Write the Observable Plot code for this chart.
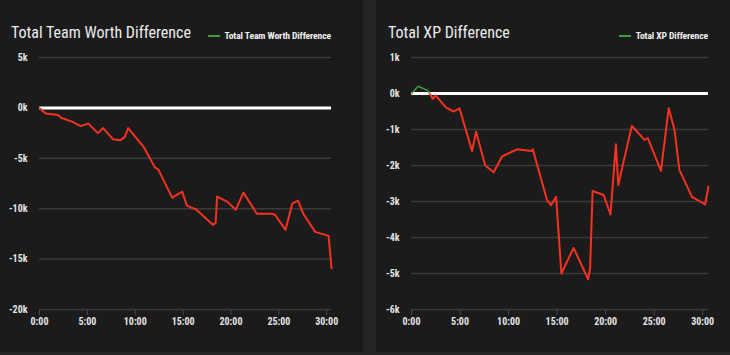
<!DOCTYPE html>
<html>
<head>
<meta charset="utf-8">
<script src="https://cdn.jsdelivr.net/npm/d3@7"></script>
<script src="https://cdn.jsdelivr.net/npm/@observablehq/plot@0.6"></script>
<style>
  html, body { margin: 0; padding: 0; }
  body { width: 730px; height: 355px; background: #252525; position: relative; overflow: hidden;
         font-family: "Liberation Sans Narrow", "Roboto Condensed", "DejaVu Sans Condensed", Roboto, sans-serif; }
  .panel { position: absolute; top: 0; height: 352px; background: #1b1b1b; }
  .title { position: absolute; top: 23px; font-size: 16px; line-height: 19px; color: #ececec; white-space: nowrap; }
  .legend { position: absolute; top: 30px; font-size: 9.6px; font-weight: bold; color: #f0f0f0; white-space: nowrap;
            display: flex; align-items: center; letter-spacing: -0.1px; }
  .legend .sw { width: 12px; height: 2px; background: #3d9a3d; margin-right: 5px; }
  .panel svg { position: absolute; left: 0; top: 0; }
</style>
</head>
<body>
<div class="panel" id="L" style="left:0;width:363px">
  <div class="title" style="left:11px">Total Team Worth Difference</div>
  <div class="legend" style="right:32px"><span class="sw"></span><span>Total Team Worth Difference</span></div>
</div>
<div class="panel" id="R" style="left:376px;width:354px">
  <div class="title" style="left:12px">Total XP Difference</div>
  <div class="legend" style="right:22px"><span class="sw"></span><span>Total XP Difference</span></div>
</div>
<script>
// ---- data (time in minutes) ----
const xTicks = [0, 5, 10, 15, 20, 25, 30];

const twTime  = [0, 0.63, 1.95, 2.3, 3.4, 4.3, 5.1, 6.1, 6.65, 7.66, 8.46, 8.9, 9.26, 10.9, 12.05, 12.4, 13.86, 14.9, 15.4, 16.4, 18.1, 18.4, 18.55, 19.6, 20.5, 21.3, 22.7, 24.3, 24.6, 25.7, 26.4, 27.0, 27.55, 28.8, 30.2, 30.5];
const twValue = [0, -560, -700, -1000, -1360, -1800, -1560, -2500, -2000, -3100, -3200, -2900, -2000, -3900, -5900, -6100, -8900, -8300, -9700, -10100, -11600, -11400, -8800, -9300, -10100, -8400, -10500, -10500, -10600, -12100, -9500, -9200, -10500, -12300, -12700, -15900];
const twTicks = [5000, 0, -5000, -10000, -15000, -20000];

const xpTime  = [0, 0.69, 1.7, 2.2, 2.47, 3.57, 4.35, 4.94, 6.24, 6.65, 7.6, 8.47, 9.33, 10.87, 12.35, 12.5, 13.96, 14.37, 14.9, 15.44, 16.7, 18.2, 18.4, 18.66, 19.8, 20.5, 21.06, 21.3, 22.7, 24.0, 24.35, 25.7, 26.5, 27.1, 27.6, 28.9, 30.25, 30.6];
const xpValue = [0, 200, 80, -150, -50, -390, -500, -410, -1600, -1060, -2000, -2190, -1750, -1550, -1600, -1550, -2960, -3100, -2870, -5000, -4290, -5160, -4860, -2710, -2820, -3360, -1410, -2540, -900, -1290, -1240, -2150, -410, -1010, -2120, -2870, -3080, -2590];
const xpTicks = [1000, 0, -1000, -2000, -3000, -4000, -5000, -6000];

const FONT = '"Liberation Sans Narrow", "Roboto Condensed", "DejaVu Sans Condensed", Roboto, sans-serif';

function chart(id, time, value, yTicks, xMax, width, ml, mr) {
  const data = time.map((t, i) => ({t, v: value[i]}));
  const yDomain = [d3.min(yTicks), d3.max(yTicks)];
  const svg = Plot.plot({
    width, height: 352,
    marginLeft: ml, marginRight: mr, marginTop: 57, marginBottom: 43,
    style: {background: "transparent", color: "#e4e4e4", fontFamily: FONT, fontSize: "10px", fontWeight: "bold"},
    x: {domain: [0, xMax], ticks: xTicks, tickFormat: d => `${d}:00`, tickSize: 6, tickPadding: 2, label: null},
    y: {domain: yDomain, ticks: yTicks, tickFormat: d => `${d / 1000}k`, tickSize: 0, tickPadding: 12, label: null},
    marks: [
      Plot.ruleY(yTicks, {stroke: "#3a3a3a", strokeWidth: 1.5}),
      Plot.ruleY([0], {stroke: "#ffffff", strokeWidth: 3}),
      Plot.line(data, {x: "t", y: "v", stroke: "#f53222", strokeWidth: 2}),
      Plot.line(data, {x: "t", y: "v", stroke: "#3d9a3d", strokeWidth: 1.5})
    ]
  });
  const y0 = svg.scale("y").apply(0);
  const s = d3.select(svg);
  const defs = s.append("defs");
  defs.append("clipPath").attr("id", id + "-neg").append("rect")
    .attr("x", 0).attr("y", y0).attr("width", width).attr("height", 352 - y0);
  defs.append("clipPath").attr("id", id + "-pos").append("rect")
    .attr("x", 0).attr("y", 0).attr("width", width).attr("height", y0);
  const lines = s.selectAll('g[aria-label="line"]').nodes();
  if (lines[0]) lines[0].setAttribute("clip-path", `url(#${id}-neg)`);
  if (lines[1]) lines[1].setAttribute("clip-path", `url(#${id}-pos)`);
  s.selectAll('[aria-label="x-axis tick"]').attr("stroke", "#4a4a4a");
  document.getElementById(id).appendChild(svg);
}

chart("L", twTime, twValue, twTicks, 30.5, 363, 39, 32);
chart("R", xpTime, xpValue, xpTicks, 30.6, 354, 35, 22);
</script>
</body>
</html>
